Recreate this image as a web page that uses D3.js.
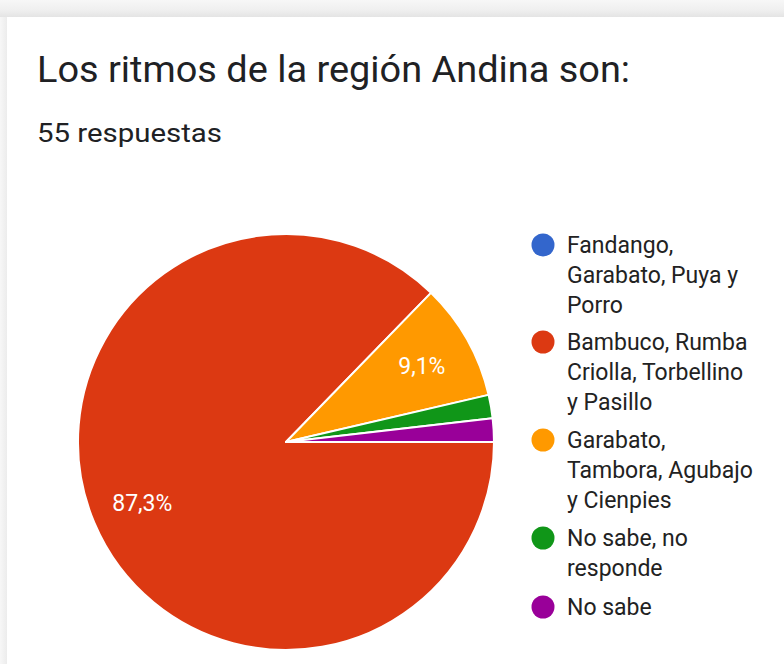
<!DOCTYPE html>
<html><head><meta charset="utf-8">
<script src="https://cdn.jsdelivr.net/npm/d3@7"></script>
<style>
html,body{margin:0;padding:0;background:#fff;}
svg{display:block;}
</style></head>
<body>
<svg id="chart" width="784" height="664"></svg>
<script>
const title = "Los ritmos de la región Andina son:";
const subtitle = "55 respuestas";
const categories = [
  ["Fandango,", "Garabato, Puya y", "Porro"],
  ["Bambuco, Rumba", "Criolla, Torbellino", "y Pasillo"],
  ["Garabato,", "Tambora, Agubajo", "y Cienpies"],
  ["No sabe, no", "responde"],
  ["No sabe"]
];
const counts = [0, 48, 5, 1, 1];
const colors = ["#3366cc", "#dc3912", "#ff9900", "#109618", "#990099"];

const svg = d3.select("#chart");

// background card and shadow
const defs = svg.append("defs");
const gTop = defs.append("linearGradient").attr("id","gtop").attr("x1",0).attr("y1",0).attr("x2",0).attr("y2",1);
gTop.append("stop").attr("offset","0%").attr("stop-color","#f7f7f7");
gTop.append("stop").attr("offset","60%").attr("stop-color","#efefef");
gTop.append("stop").attr("offset","100%").attr("stop-color","#e4e4e4");
const gLeft = defs.append("linearGradient").attr("id","gleft").attr("x1",0).attr("y1",0).attr("x2",1).attr("y2",0);
gLeft.append("stop").attr("offset","0%").attr("stop-color","#f7f7f7");
gLeft.append("stop").attr("offset","100%").attr("stop-color","#ececec");
svg.append("rect").attr("x",0).attr("y",0).attr("width",784).attr("height",664).attr("fill","#f5f5f5");
svg.append("rect").attr("x",0).attr("y",0).attr("width",784).attr("height",17).attr("fill","url(#gtop)");
svg.append("rect").attr("x",0).attr("y",17).attr("width",7).attr("height",647).attr("fill","url(#gleft)");
svg.append("rect").attr("x",7).attr("y",17).attr("width",777).attr("height",647).attr("fill","#ffffff");

svg.append("text").attr("x",37).attr("y",82)
  .attr("font-family","Roboto, 'Open Sans', sans-serif").attr("font-size",36)
  .attr("textLength",593).attr("lengthAdjust","spacingAndGlyphs")
  .attr("fill","#202124").text(title);
svg.append("text").attr("x",37).attr("y",142)
  .attr("font-family","Roboto, sans-serif").attr("font-size",25)
  .attr("textLength",185).attr("lengthAdjust","spacingAndGlyphs")
  .attr("fill","#202124").text(subtitle);

const cx = 286, cy = 442, R = 208;
const total = d3.sum(counts);
const data = counts.map((v,i)=>({v, i}));
const pie = d3.pie().value(d=>d.v).sort(null)
  .startAngle(Math.PI/2).endAngle(Math.PI/2 + 2*Math.PI);
const arc = d3.arc().innerRadius(0).outerRadius(R);
const labelArc = d3.arc().innerRadius(R*0.75).outerRadius(R*0.75);
const color = d3.scaleOrdinal().domain(d3.range(counts.length)).range(colors);

const g = svg.append("g").attr("transform",`translate(${cx},${cy})`);
const arcs = pie(data).filter(d=>d.data.v>0);
g.selectAll("path").data(arcs).enter().append("path")
  .attr("d",arc).attr("fill",d=>color(d.data.i))
  .attr("stroke","#ffffff").attr("stroke-width",2).attr("stroke-linejoin","round");

const fmt = v => (v/total*100).toFixed(1).replace(".", ",") + "%";
g.selectAll("text.pl").data(arcs.filter(d=>d.data.v/total>0.05)).enter().append("text")
  .attr("class","pl")
  .attr("transform",d=>`translate(${labelArc.centroid(d)})`)
  .attr("text-anchor","middle").attr("dy","0.36em")
  .attr("font-family","Roboto, sans-serif").attr("font-size",23)
  .attr("fill","#ffffff").text(d=>fmt(d.data.v));

// legend
const legendTop = [245, 342, 440, 538, 607];
const lg = svg.append("g");
categories.forEach((lines,i)=>{
  lg.append("circle").attr("cx",543).attr("cy",legendTop[i]).attr("r",11.5).attr("fill",color(i));
  const t = lg.append("text").attr("x",567).attr("y",legendTop[i]+8)
    .attr("font-family","Roboto, sans-serif").attr("font-size",23).attr("fill","#222222");
  lines.forEach((ln,j)=>{
    t.append("tspan").attr("x",567).attr("dy", j===0?0:30).text(ln);
  });
});
</script>
</body></html>
